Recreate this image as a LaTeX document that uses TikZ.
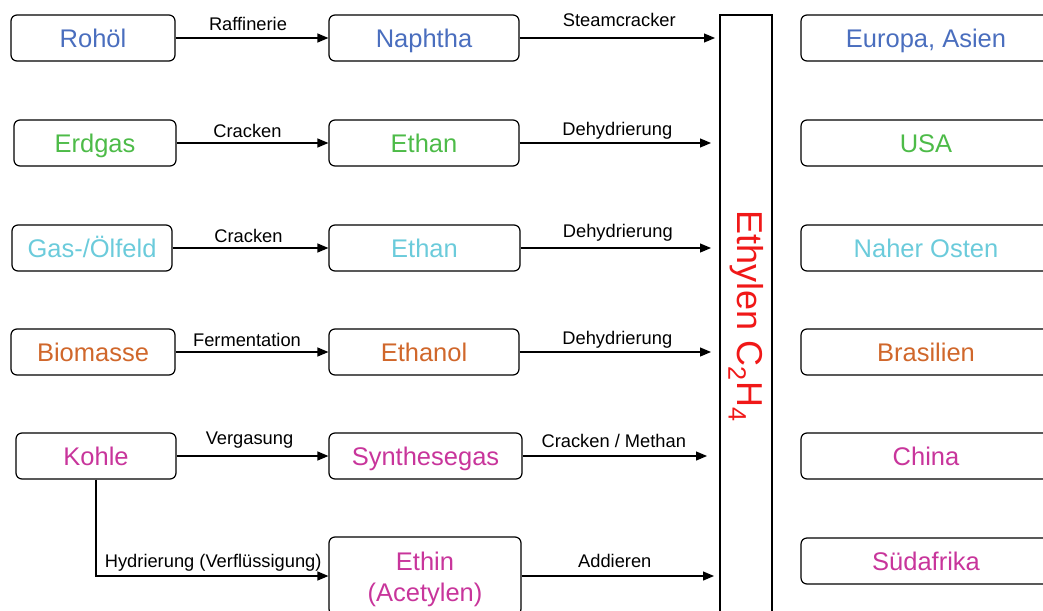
\documentclass[tikz,border=0pt]{standalone}
\usepackage{fontspec}
\setmainfont{Liberation Sans}
\usetikzlibrary{arrows.meta}
\definecolor{cblue}{HTML}{4A6EBE}
\definecolor{cgreen}{HTML}{4DBB48}
\definecolor{clight}{HTML}{6BCBDB}
\definecolor{corange}{HTML}{D0672B}
\definecolor{cmag}{HTML}{C8359B}
\definecolor{cred}{HTML}{F01818}
\begin{document}
\begin{tikzpicture}[x=1pt,y=-1pt,
  box/.style={draw=black, line width=1.2pt, rounded corners=6pt, inner sep=0pt,
    minimum height=46pt, font=\fontsize{25.5}{30}\selectfont, text height=18.4pt, text depth=0pt},
  lbl/.style={font=\fontsize{18.3}{22}\selectfont, inner sep=0pt, text=black, anchor=base},
  arr/.style={line width=1.2pt, -{Triangle[length=11pt,width=9pt]}}]
\useasboundingbox (0,0) rectangle (1043,610);
% left column
\node[box, minimum width=164pt, text=cblue]   (rohol)  at (93,38)  {Rohöl};
\node[box, minimum width=162pt, text=cgreen]  (erdgas) at (95,143) {Erdgas};
\node[box, minimum width=160pt, text=clight]  (feld)   at (92,248) {Gas-/Ölfeld};
\node[box, minimum width=164pt, text=corange] (bio)    at (93,352) {Biomasse};
\node[box, minimum width=160pt, text=cmag]    (kohle)  at (96,456) {Kohle};
% middle column
\node[box, minimum width=190pt, text=cblue]   (naphtha) at (424,38)  {Naphtha};
\node[box, minimum width=190pt, text=cgreen]  (ethanA)  at (424,143) {Ethan};
\node[box, minimum width=191pt, text=clight]  (ethanB)  at (424.5,248) {Ethan};
\node[box, minimum width=190pt, text=corange] (ethanol) at (424,352) {Ethanol};
\node[box, minimum width=193pt, text=cmag]    (synth)   at (425.5,456) {Synthesegas};
\node[box, minimum width=192pt, minimum height=78pt, text height=, text depth=] (ethin) at (425,576) {};
\node[text=cmag, inner sep=0pt, align=center, font=\fontsize{25.5}{31}\selectfont]
  (ethintext) at (425,579) {Ethin\\(Acetylen)};
% Ethylen column
\node[draw=black, line width=1.2pt, minimum width=52pt, minimum height=605pt, inner sep=0pt]
  (ethylen) at (746,317.5) {};
\node[rotate=-90, text=cred, font=\fontsize{36}{40}\selectfont, inner sep=0pt]
  (ethtext) at (746,316) {Ethylen C\textsubscript{2}H\textsubscript{4}};
% right column
\node[box, minimum width=250pt, text=cblue]   (eur) at (926,38)  {Europa, Asien};
\node[box, minimum width=250pt, text=cgreen]  (usa) at (926,143) {USA};
\node[box, minimum width=250pt, text=clight]  (nah) at (926,248) {Naher Osten};
\node[box, minimum width=250pt, text=corange] (bra) at (926,352) {Brasilien};
\node[box, minimum width=250pt, text=cmag]    (chi) at (926,456) {China};
\node[box, minimum width=250pt, text=cmag]    (sue) at (926,561) {Südafrika};
% free arrow ends at Ethylen
\coordinate (e1) at (715,38);
\coordinate (e2) at (711,143);
\coordinate (e3) at (711,248);
\coordinate (e4) at (711,352);
\coordinate (e5) at (707,456);
\coordinate (e6) at (714,576);
% arrows left -> middle
\draw[arr] (rohol)  -- node[lbl, yshift=7pt, xshift=-4pt]{Raffinerie} (naphtha);
\draw[arr] (erdgas) -- node[lbl, yshift=6pt, xshift=-5pt]{Cracken} (ethanA);
\draw[arr] (feld)   -- node[lbl, yshift=6pt, xshift=-2pt]{Cracken} (ethanB);
\draw[arr] (bio)    -- node[lbl, yshift=6pt, xshift=-5pt]{Fermentation} (ethanol);
\draw[arr] (kohle)  -- node[lbl, yshift=12pt, xshift=-3pt]{Vergasung} (synth);
\draw[arr] (kohle.south) |- node[lbl, pos=0.75, yshift=9pt, xshift=1pt]{Hydrierung (Verflüssigung)} (ethin.west);
% arrows middle -> Ethylen
\draw[arr] (naphtha) -- node[lbl, yshift=11pt, xshift=2pt]{Steamcracker} (e1);
\draw[arr] (ethanA)  -- node[lbl, yshift=8pt, xshift=2pt]{Dehydrierung} (e2);
\draw[arr] (ethanB)  -- node[lbl, yshift=11pt, xshift=2pt]{Dehydrierung} (e3);
\draw[arr] (ethanol) -- node[lbl, yshift=8pt, xshift=2pt]{Dehydrierung} (e4);
\draw[arr] (synth)   -- node[lbl, yshift=9pt, xshift=-1pt]{Cracken / Methan} (e5);
\draw[arr] (ethin)   -- node[lbl, yshift=9pt, xshift=-3pt]{Addieren} (e6);
\end{tikzpicture}
\end{document}
